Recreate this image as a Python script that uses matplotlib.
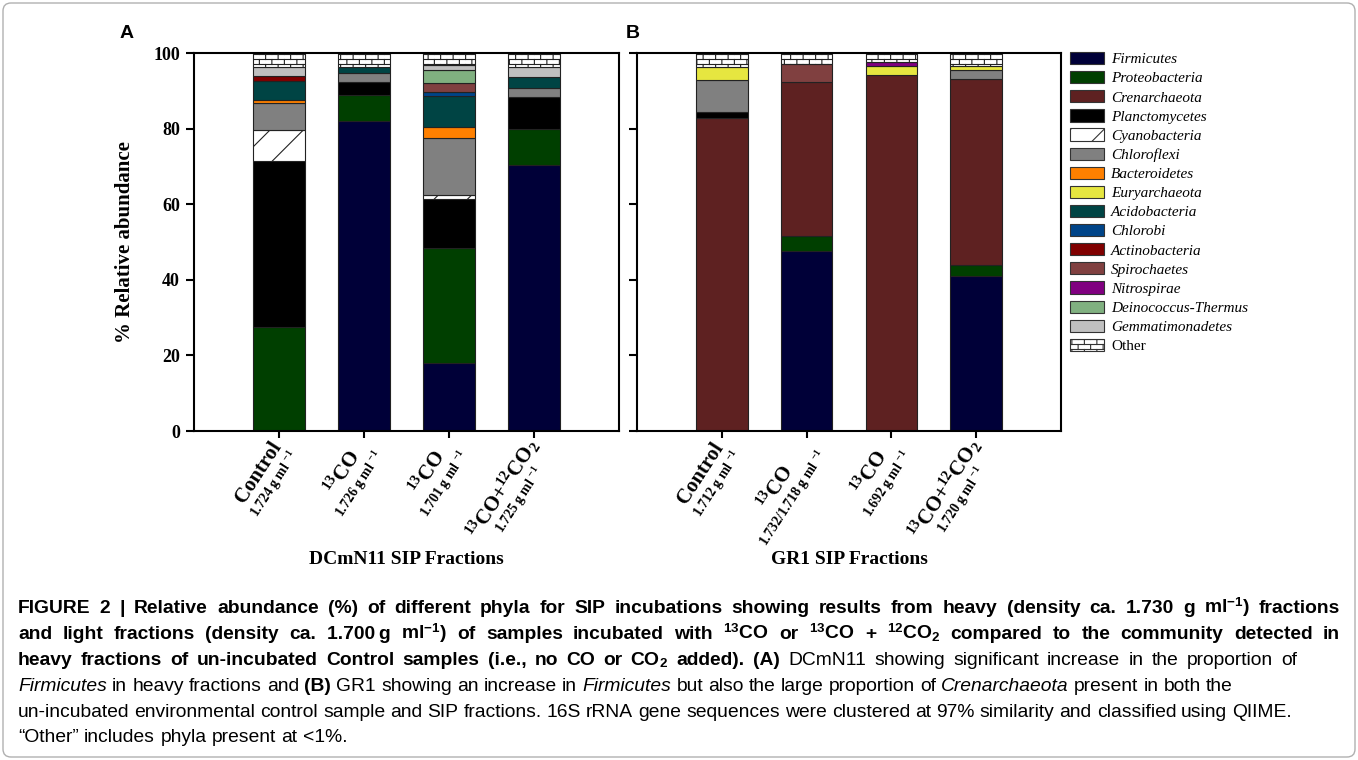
import warnings
warnings.filterwarnings('ignore')
import numpy as np
import matplotlib
matplotlib.use('Agg')
import matplotlib.pyplot as plt
import matplotlib.hatch as mhatch
from matplotlib.path import Path
from matplotlib.patches import Patch, FancyBboxPatch
from matplotlib.transforms import IdentityTransform
from matplotlib import font_manager as fm

# ---------------- data ----------------
phyla = ['Firmicutes', 'Proteobacteria', 'Crenarchaeota', 'Planctomycetes',
         'Cyanobacteria', 'Chloroflexi', 'Bacteroidetes', 'Euryarchaeota',
         'Acidobacteria', 'Chlorobi', 'Actinobacteria', 'Spirochaetes',
         'Nitrospirae', 'Deinococcus-Thermus', 'Gemmatimonadetes', 'Other']

dcmn11_main = ['Control', r'$^{\mathrm{13}}$CO', r'$^{\mathrm{13}}$CO',
               r'$^{\mathrm{13}}$CO+$^{\mathrm{12}}$CO$_{\mathrm{2}}$']
dcmn11_density = ['1.724', '1.726', '1.701', '1.725']
gr1_main = ['Control', r'$^{\mathrm{13}}$CO', r'$^{\mathrm{13}}$CO',
            r'$^{\mathrm{13}}$CO+$^{\mathrm{12}}$CO$_{\mathrm{2}}$']
gr1_density = ['1.712', '1.732/1.718', '1.692', '1.720']

# % relative abundance; rows follow `phyla`, columns follow the four fractions
dcmn11_pct = [
    [0.0, 81.9, 18.0, 70.4],   # Firmicutes
    [27.4, 7.1, 30.3, 9.4],    # Proteobacteria
    [0.0, 0.0, 0.0, 0.0],      # Crenarchaeota
    [44.0, 3.4, 13.0, 8.6],    # Planctomycetes
    [8.3, 0.0, 1.2, 0.0],      # Cyanobacteria
    [7.0, 2.4, 15.0, 2.3],     # Chloroflexi
    [0.9, 0.0, 2.9, 0.0],      # Bacteroidetes
    [0.0, 0.0, 0.0, 0.0],      # Euryarchaeota
    [5.1, 1.6, 8.1, 2.9],      # Acidobacteria
    [0.0, 0.0, 1.3, 0.0],      # Chlorobi
    [1.1, 0.0, 0.0, 0.0],      # Actinobacteria
    [0.0, 0.0, 2.2, 0.0],      # Spirochaetes
    [0.0, 0.0, 0.0, 0.0],      # Nitrospirae
    [0.0, 0.0, 3.6, 0.0],      # Deinococcus-Thermus
    [2.6, 0.0, 1.3, 2.6],      # Gemmatimonadetes
    [3.6, 3.6, 3.1, 3.8],      # Other
]
gr1_pct = [
    [0.0, 47.5, 0.0, 41.1],    # Firmicutes
    [0.0, 4.0, 0.0, 2.7],      # Proteobacteria
    [82.9, 40.9, 94.3, 49.2],  # Crenarchaeota
    [1.5, 0.0, 0.0, 0.0],      # Planctomycetes
    [0.0, 0.0, 0.0, 0.0],      # Cyanobacteria
    [8.4, 0.0, 0.0, 2.5],      # Chloroflexi
    [0.0, 0.0, 0.0, 0.0],      # Bacteroidetes
    [3.6, 0.0, 2.2, 1.0],      # Euryarchaeota
    [0.0, 0.0, 0.0, 0.0],      # Acidobacteria
    [0.0, 0.0, 0.0, 0.0],      # Chlorobi
    [0.0, 0.0, 0.0, 0.0],      # Actinobacteria
    [0.0, 4.7, 0.0, 0.0],      # Spirochaetes
    [0.0, 0.0, 1.0, 0.0],      # Nitrospirae
    [0.0, 0.0, 0.0, 0.0],      # Deinococcus-Thermus
    [0.0, 0.0, 0.0, 0.0],      # Gemmatimonadetes
    [3.6, 2.9, 2.5, 3.5],      # Other
]

colors = ['#000038', '#003f00', '#5e2121', '#000000', '#ffffff', '#808080',
          '#ff8000', '#e6e640', '#004444', '#004488', '#800000', '#804040',
          '#800080', '#80b080', '#c0c0c0', '#ffffff']
hatches = [None, None, None, None, '/', None, None, None, None, None, None,
           None, None, None, None, 'b']

# ---------------- custom brick hatch for "Other" ----------------
class BrickHatch(mhatch.HatchPatternBase):
    def __init__(self, hatch, density):
        self.rows, self.cols = 20, 8
        self.active = 'b' in hatch
        self.num_vertices = (2 * self.rows + 2 * self.rows * self.cols) if self.active else 0

    def set_vertices_and_codes(self, vertices, codes):
        v = []
        eps = 0.005
        for r in range(self.rows):
            y = r / self.rows + eps
            v += [(0.0, y), (1.0, y)]
        for r in range(self.rows):
            y0 = r / self.rows + eps
            y1 = (r + 1) / self.rows + eps
            off = (0.25 + (0.5 if r % 2 else 0.0)) / self.cols
            for c in range(self.cols):
                x = c / self.cols + off
                v += [(x, y0), (x, y1)]
        vertices[:] = np.array(v)
        codes[0::2] = Path.MOVETO
        codes[1::2] = Path.LINETO

mhatch._hatch_types.append(BrickHatch)

# ---------------- fonts ----------------
SERIF = 'Liberation Serif'
def has_font(name):
    try:
        fm.findfont(fm.FontProperties(family=name), fallback_to_default=False)
        return True
    except Exception:
        return False
CAP_FAMILY = ['Liberation Sans Narrow', 'Liberation Sans', 'DejaVu Sans'] if has_font('Liberation Sans Narrow') \
    else ['Liberation Sans', 'DejaVu Sans']

plt.rcParams['font.family'] = [SERIF, 'DejaVu Serif']
plt.rcParams['mathtext.fontset'] = 'custom'
plt.rcParams['mathtext.rm'] = 'Liberation Serif:bold'
plt.rcParams['mathtext.bf'] = 'Liberation Serif:bold'
plt.rcParams['mathtext.it'] = 'Liberation Serif:italic:bold'
plt.rcParams['mathtext.sf'] = CAP_FAMILY[0] + ':bold'
plt.rcParams['hatch.linewidth'] = 0.8

W, H = 1358, 760
fig = plt.figure(figsize=(W / 100, H / 100), dpi=100)
renderer = fig.canvas.get_renderer()

EDGE = '#222222'
axA = fig.add_axes([194 / W, 1 - 431 / H, 425 / W, 378 / H])
axB = fig.add_axes([637 / W, 1 - 431 / H, 424 / W, 378 / H])

def draw_panel(ax, pct, show_labels):
    x = np.arange(4)
    bottoms = np.zeros(4)
    for k, vals in enumerate(pct):
        vals = np.asarray(vals, float)
        m = vals > 0
        if m.any():
            ax.bar(x[m], vals[m], width=0.61, bottom=bottoms[m], color=colors[k],
                   edgecolor=EDGE, linewidth=0.8, hatch=hatches[k], zorder=2)
        bottoms += vals
    ax.set_xlim(-1, 4)
    ax.set_ylim(0, 100)
    for s in ax.spines.values():
        s.set_linewidth(1.5)
        s.set_zorder(3)
    ax.set_yticks([0, 20, 40, 60, 80, 100])
    ax.set_xticks(x)
    ax.set_xticklabels([])
    ax.tick_params(axis='y', direction='out', length=6, width=1.5, pad=4, labelsize=13)
    ax.tick_params(axis='x', direction='out', length=5, width=1.5)
    if show_labels:
        for lbl in ax.get_yticklabels():
            lbl.set_fontweight('bold')
    else:
        ax.set_yticklabels([])

draw_panel(axA, dcmn11_pct, True)
draw_panel(axB, gr1_pct, False)

def text_width(s, **kw):
    t = fig.text(0, 0, s, **kw)
    w = t.get_window_extent(renderer=renderer).width
    t.remove()
    return w

# ---------------- rotated x labels ----------------
ANG = 57
th = np.deg2rad(ANG)
dvec = np.array([np.cos(th), np.sin(th)])
nvec = np.array([np.sin(th), -np.cos(th)])
MAIN_FS, DENS_FS = 15, 10
LINE_GAP = 20

def place_labels(ax, mains, dens):
    for i, (m, d) in enumerate(zip(mains, dens)):
        dtxt = d + r' g ml $^{\mathrm{-1}}$'
        tx, ty = ax.transData.transform((i, 0))
        E = np.array([tx + 0, ty - 10])
        w1 = text_width(m, fontsize=MAIN_FS, fontweight='bold')
        w2 = text_width(dtxt, fontsize=DENS_FS, fontweight='bold')
        L = max(w1, w2)
        c1 = E - dvec * L / 2
        c2 = c1 + nvec * LINE_GAP
        fig.text(c1[0] / W, c1[1] / H, m, rotation=ANG, rotation_mode='anchor',
                 ha='center', va='center', fontsize=MAIN_FS, fontweight='bold')
        fig.text(c2[0] / W, c2[1] / H, dtxt, rotation=ANG, rotation_mode='anchor',
                 ha='center', va='center', fontsize=DENS_FS, fontweight='bold')

place_labels(axA, dcmn11_main, dcmn11_density)
place_labels(axB, gr1_main, gr1_density)

fig.text((194 + 619) / 2 / W, 1 - 560 / H, 'DCmN11 SIP Fractions', ha='center', va='center',
         fontsize=14, fontweight='bold')
fig.text((637 + 1061) / 2 / W, 1 - 560 / H, 'GR1 SIP Fractions', ha='center', va='center',
         fontsize=14, fontweight='bold')
fig.text(125 / W, 1 - 242 / H, '% Relative abundance', rotation=90, ha='center', va='center',
         fontsize=15, fontweight='bold')
fig.text(127 / W, 1 - 34 / H, 'A', ha='center', va='center', fontsize=14, fontweight='bold',
         family=['Liberation Sans', 'DejaVu Sans'])
fig.text(633 / W, 1 - 33 / H, 'B', ha='center', va='center', fontsize=14, fontweight='bold',
         family=['Liberation Sans', 'DejaVu Sans'])

# ---------------- legend ----------------
handles = [Patch(facecolor=colors[k], edgecolor='#333333', linewidth=0.8, hatch=hatches[k])
           for k in range(len(phyla))]
leg = fig.legend(handles, phyla, loc='upper left', bbox_to_anchor=(1070 / W, 1 - 52 / H),
                 bbox_transform=fig.transFigure, frameon=False, borderpad=0, borderaxespad=0,
                 handlelength=2.2, handleheight=0.85, handletextpad=0.5, labelspacing=0.31,
                 prop={'family': SERIF, 'size': 11, 'style': 'italic'})
leg.get_texts()[-1].set_fontstyle('normal')

# ---------------- caption ----------------
caption_lines = [
    ([("FIGURE 2 | Relative abundance (%) of different phyla for SIP incubations showing results from heavy (density ca. 1.730 g ml$^{\\mathsf{-1}}$) fractions", 'bold', 'normal')], 1340),
    ([("and light fractions (density ca. 1.700\u2009g ml$^{\\mathsf{-1}}$) of samples incubated with $^{\\mathsf{13}}$CO or $^{\\mathsf{13}}$CO + $^{\\mathsf{12}}$CO$_{\\mathsf{2}}$ compared to the community detected in", 'bold', 'normal')], 1340),
    ([("heavy fractions of un-incubated Control samples (i.e., no CO or CO$_{\\mathsf{2}}$ added). (A)", 'bold', 'normal'),
      ("DCmN11 showing significant increase in the proportion of", 'normal', 'normal')], 1297),
    ([("Firmicutes", 'normal', 'italic'), ("in heavy fractions and", 'normal', 'normal'),
      ("(B)", 'bold', 'normal'), ("GR1 showing an increase in", 'normal', 'normal'),
      ("Firmicutes", 'normal', 'italic'), ("but also the large proportion of", 'normal', 'normal'),
      ("Crenarchaeota", 'normal', 'italic'), ("present in both the", 'normal', 'normal')], 1233),
    ([("un-incubated environmental control sample and SIP fractions. 16S rRNA gene sequences were clustered at 97% similarity and classified using QIIME.", 'normal', 'normal')], 1292),
    ([("\u201cOther\u201d includes phyla present at <1%.", 'normal', 'normal')], None),
]
caption_centers = [607, 633, 659, 685, 711, 736]

def line_words(runs):
    out = []
    for text, wt, st in runs:
        for w in text.split(' '):
            if w:
                out.append((w, wt, st))
    return out

def natural_width(words, fs):
    ws = [text_width(w, fontsize=fs, fontweight=wt, fontstyle=st, family=CAP_FAMILY) for w, wt, st in words]
    sp = text_width('a a', fontsize=fs, family=CAP_FAMILY) - text_width('aa', fontsize=fs, family=CAP_FAMILY)
    return sum(ws) + sp * (len(ws) - 1)

ref_words = line_words(caption_lines[4][0])
CAP_FS = 13 * (1292 - 18) / natural_width(ref_words, 13)
space_w = text_width('a a', fontsize=CAP_FS, family=CAP_FAMILY) - text_width('aa', fontsize=CAP_FS, family=CAP_FAMILY)

for (runs, xend), yc in zip(caption_lines, caption_centers):
    words = line_words(runs)
    widths = [text_width(w, fontsize=CAP_FS, fontweight=wt, fontstyle=st, family=CAP_FAMILY)
              for w, wt, st in words]
    x0 = 18
    if xend is not None and len(words) > 1:
        gap = max((xend - x0 - sum(widths)) / (len(words) - 1), space_w * 0.6)
    else:
        gap = space_w
    x = x0
    for (w, wt, st), wd in zip(words, widths):
        fig.text(x / W, 1 - (yc + 6) / H, w, ha='left', va='baseline', fontsize=CAP_FS,
                 fontweight=wt, fontstyle=st, family=CAP_FAMILY)
        x += wd + gap

# figure frame
fig.patches.append(FancyBboxPatch((3, 3), W - 6, H - 6, boxstyle='round,pad=0,rounding_size=8',
                                  transform=IdentityTransform(), fill=False, edgecolor='#b0b0b0',
                                  linewidth=1))

fig.savefig('out.png', dpi=100)
